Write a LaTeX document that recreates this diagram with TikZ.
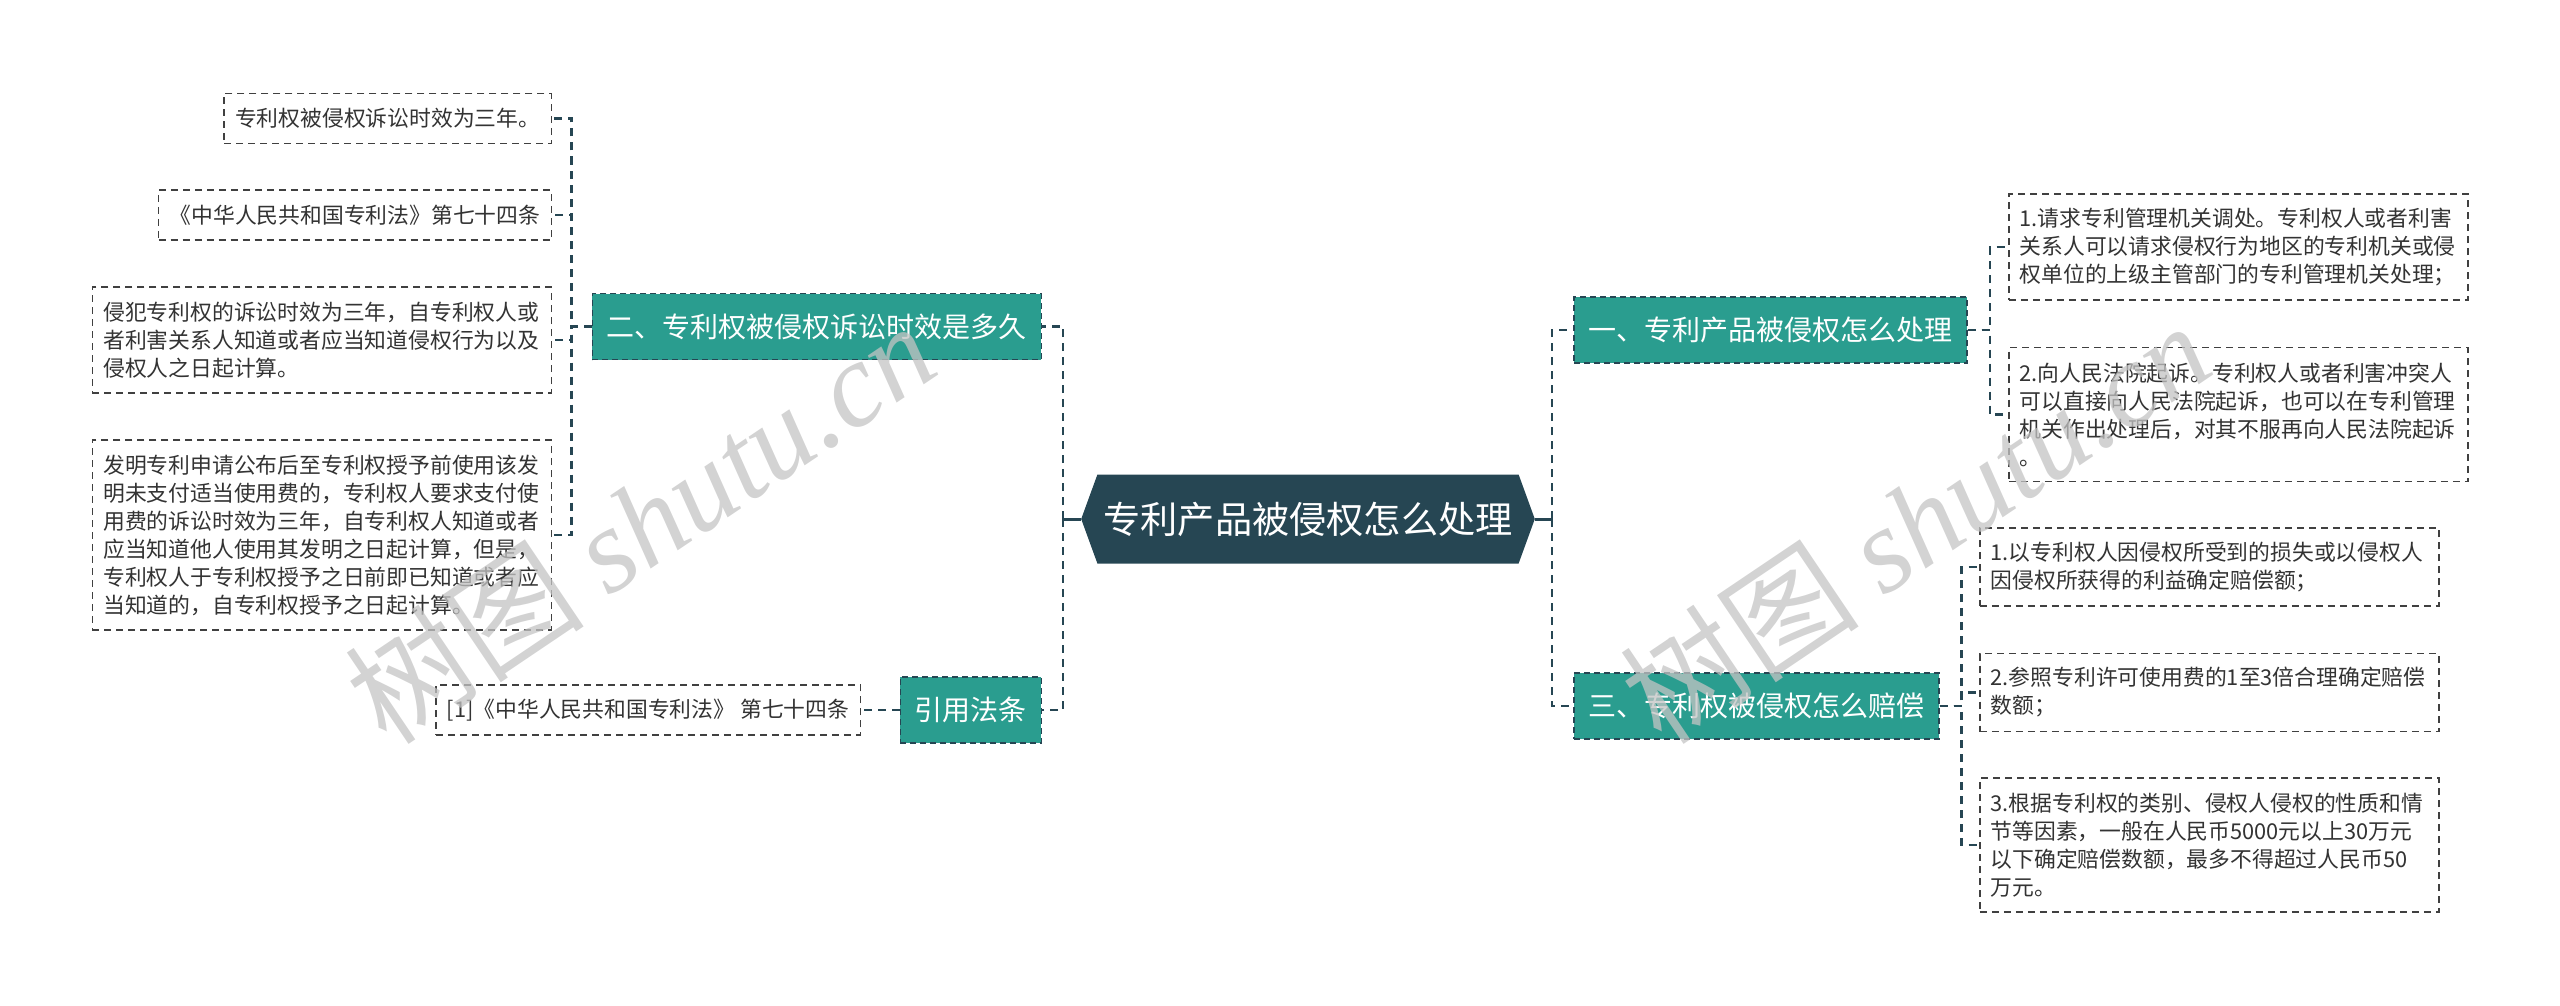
\documentclass[tikz,border=0pt]{standalone}
\usepackage{fontspec}
\setmainfont{Noto Sans CJK SC}
\newfontfamily\wmlatin{Liberation Serif}
\usetikzlibrary{positioning, shapes.symbols}
\definecolor{rootcol}{HTML}{264653}
\definecolor{branchcol}{HTML}{2A9D8F}
\definecolor{leafline}{HTML}{404040}
\definecolor{leaftext}{HTML}{333333}
\definecolor{markgray}{HTML}{C4C4C4}

\begin{document}
\begin{tikzpicture}[x=0.5pt, y=-0.5pt,
  link/.style={draw=rootcol, line width=1.1pt, dash pattern=on 4pt off 3pt},
  rootlink/.style={draw=rootcol, line width=1.5pt},
  rootbox/.style={signal, signal to=west and east, signal pointer angle=140,
    fill=rootcol, text=white, font=\fontsize{18.6pt}{22pt}\selectfont,
    inner xsep=3pt, inner ysep=0pt, minimum height=44.5pt},
  branch/.style={fill=branchcol, draw=rootcol, line width=0.75pt,
    dash pattern=on 3pt off 2pt, text=white, font=\fontsize{14pt}{17pt}\selectfont,
    inner xsep=7.25pt, inner ysep=0pt, minimum height=33pt},
  leaf/.style={fill=white, draw=leafline, line width=0.75pt,
    dash pattern=on 3.5pt off 2.5pt, text=leaftext,
    font=\fontsize{10.9pt}{14pt}\selectfont, align=left,
    inner xsep=5.5pt, inner ysep=3pt, minimum height={11pt+14pt*#1}},
  leaf/.default=1,
  para/.style={text width=218.5pt},
  wmark/.style={rotate=34, text=markgray, opacity=0.75,
    font=\fontsize{60pt}{60pt}\selectfont},
]
\useasboundingbox (0,0) rectangle (2560,1006);

\coordinate (lj) at (1063,519);
\coordinate (rj) at (1552,519);

\node (root) [rootbox] at (1308,519) {专利产品被侵权怎么处理};

\node (b2) [branch, anchor=east] at (1042,326.5) {二、专利权被侵权诉讼时效是多久};
\node (b4) [branch, anchor=east] at (1042,710) {引用法条};
\node (b1) [branch, anchor=west] at (1573,330) {一、专利产品被侵权怎么处理};
\node (b3) [branch, anchor=west] at (1573,706) {三、专利权被侵权怎么赔偿};

\node (a1) [leaf, anchor=east] at (552,118.5) {专利权被侵权诉讼时效为三年。};
\node (a2) [leaf, anchor=east] at (552,215) {《中华人民共和国专利法》第七十四条};
\node (a3) [leaf=3, para, anchor=east] at (552,340) {侵犯专利权的诉讼时效为三年，自专利权人或\\者利害关系人知道或者应当知道侵权行为以及\\侵权人之日起计算。};
\node (a4) [leaf=6, para, anchor=east] at (552,535) {发明专利申请公布后至专利权授予前使用该发\\明未支付适当使用费的，专利权人要求支付使\\用费的诉讼时效为三年，自专利权人知道或者\\应当知道他人使用其发明之日起计算，但是，\\专利权人于专利权授予之日前即已知道或者应\\当知道的，自专利权授予之日起计算。};
\node (r1) [leaf, anchor=east] at (861,710) {[1]《中华人民共和国专利法》 第七十四条};

\node (c1) [leaf=3, para, anchor=west] at (2008,247) {1.请求专利管理机关调处。专利权人或者利害\\关系人可以请求侵权行为地区的专利机关或侵\\权单位的上级主管部门的专利管理机关处理；};
\node (c2) [leaf=4, para, anchor=west] at (2008,414.5) {2.向人民法院起诉。专利权人或者利害冲突人\\可以直接向人民法院起诉，也可以在专利管理\\机关作出处理后，对其不服再向人民法院起诉\\。};
\node (d1) [leaf=2, para, anchor=west] at (1979,567) {1.以专利权人因侵权所受到的损失或以侵权人\\因侵权所获得的利益确定赔偿额；};
\node (d2) [leaf=2, para, anchor=west] at (1979,692.5) {2.参照专利许可使用费的1至3倍合理确定赔偿\\数额；};
\node (d3) [leaf=4, para, anchor=west] at (1979,845) {3.根据专利权的类别、侵权人侵权的性质和情\\节等因素，一般在人民币5000元以上30万元\\以下确定赔偿数额，最多不得超过人民币50\\万元。};

\draw[rootlink] (root.west) -- (lj);
\draw[rootlink] (root.east) -- (rj);
\draw[link] (lj) |- (b2.east);
\draw[link] (lj) |- (b4.east);
\draw[link] (rj) |- (b1.west);
\draw[link] (rj) |- (b3.west);

\foreach \n in {a1,a2,a3,a4}
  \draw[link] (b2.west) -- ++(-20,0) |- (\n.east);
\draw[link] (b4.west) -- (r1.east);
\foreach \n in {c1,c2}
  \draw[link] (b1.east) -- ++(22.5,0) |- (\n.west);
\foreach \n in {d1,d2,d3}
  \draw[link] (b3.east) -- ++(22,0) |- (\n.west);

\node (wm1) [wmark] at (640,522) {树图 {\wmlatin\itshape shutu.cn}};
\node (wm2) [wmark] at (1915,522) {树图 {\wmlatin\itshape shutu.cn}};
\end{tikzpicture}
\end{document}
